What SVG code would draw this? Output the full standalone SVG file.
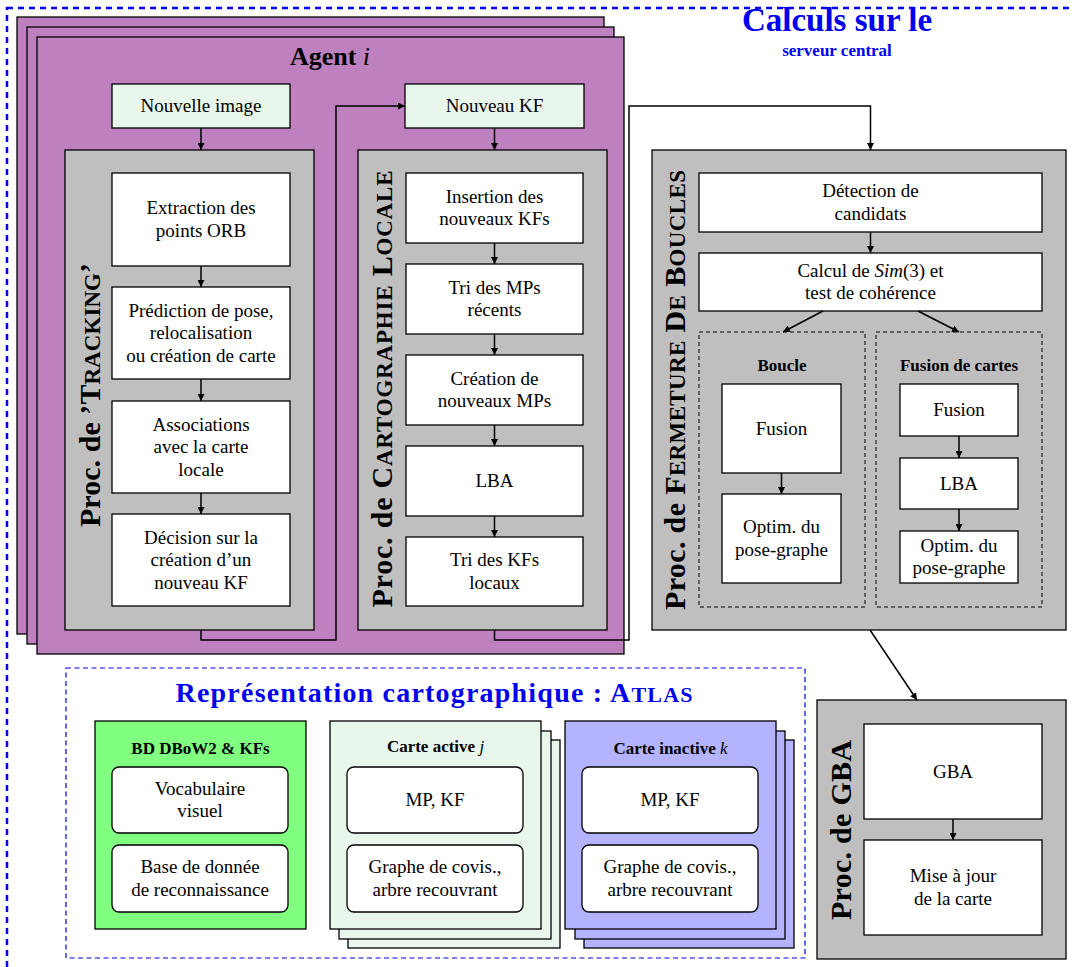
<svg xmlns="http://www.w3.org/2000/svg" width="1073" height="967" viewBox="0 0 1073 967">
  <style>
    .t { font-family: "Liberation Serif", "Times New Roman", serif; font-size: 19px; fill: #000; text-anchor: middle; }
    .b { font-family: "Liberation Serif", "Times New Roman", serif; font-weight: bold; fill: #000; text-anchor: middle; }
    .lbl { font-family: "Liberation Serif", "Times New Roman", serif; font-weight: bold; font-size: 30px; fill: #000; text-anchor: middle; }
    .sc { font-size: 23px; }
    .box { fill: #fff; stroke: #000; stroke-width: 1.3; }
    .mint { fill: #e8f6ec; stroke: #000; stroke-width: 1.3; }
    .grey { fill: #bfbfbf; stroke: #000; stroke-width: 1.3; }
    .agent { fill: #bf80bf; stroke: #000; stroke-width: 1.3; }
    .dash { fill: none; stroke: #000; stroke-width: 1; stroke-dasharray: 4 3; }
    .rbox { fill: #fff; stroke: #000; stroke-width: 1.3; }
    .arr { fill: none; stroke: #000; stroke-width: 1.5; marker-end: url(#ah); }
  </style>
  <defs>
    <marker id="ah" viewBox="0 0 10 10" refX="10" refY="5" markerWidth="7" markerHeight="7" markerUnits="userSpaceOnUse" orient="auto">
      <path d="M0,0 L10,5 L0,10 Z" fill="#000"/>
    </marker>
  </defs>

  <rect width="1073" height="967" fill="#fff"/>

  <!-- central server frame -->
  <g id="serveur">
    <rect x="7" y="8" width="1090" height="990" fill="none" stroke="#0000ee" stroke-width="2.5" stroke-dasharray="6 5"/>
    <text class="b" x="837" y="31" font-size="33" style="fill:#0000ee">Calculs sur le</text>
    <text class="b" x="837" y="56" font-size="17" style="fill:#0000ee">serveur central</text>
  </g>

  <!-- agent stack -->
  <g id="agent">
    <rect class="agent" x="17" y="17" width="587" height="617"/>
    <rect class="agent" x="27" y="27" width="587" height="617"/>
    <rect class="agent" x="37" y="37" width="587" height="617"/>
    <text class="b" x="330" y="65" font-size="26">Agent <tspan font-style="italic" font-weight="normal">i</tspan></text>
  </g>

  <g id="nouvelle-image">
    <rect class="mint" x="112" y="84" width="178" height="44"/>
    <text class="t" x="201" y="112">Nouvelle image</text>
  </g>
  <g id="nouveau-kf">
    <rect class="mint" x="405" y="84" width="179" height="44"/>
    <text class="t" x="494.5" y="112">Nouveau KF</text>
  </g>

  <!-- tracking thread -->
  <g id="tracking">
    <rect class="grey" x="65" y="150" width="249" height="480"/>
    <text class="lbl" transform="translate(100,395) rotate(-90)" textLength="264" lengthAdjust="spacing">Proc. de ’T<tspan class="sc">RACKING</tspan>’</text>
  </g>
  <g id="extraction">
    <rect class="box" x="112" y="173" width="178" height="93"/>
    <text class="t" x="201" y="214">Extraction des</text>
    <text class="t" x="201" y="237">points ORB</text>
  </g>
  <g id="prediction">
    <rect class="box" x="112" y="287" width="178" height="92"/>
    <text class="t" x="201" y="316.5">Prédiction de pose,</text>
    <text class="t" x="201" y="339">relocalisation</text>
    <text class="t" x="201" y="361.5">ou création de carte</text>
  </g>
  <g id="associations">
    <rect class="box" x="112" y="401" width="178" height="92"/>
    <text class="t" x="201" y="430.5">Associations</text>
    <text class="t" x="201" y="453">avec la carte</text>
    <text class="t" x="201" y="475.5">locale</text>
  </g>
  <g id="decision">
    <rect class="box" x="112" y="514" width="178" height="92"/>
    <text class="t" x="201" y="543.5">Décision sur la</text>
    <text class="t" x="201" y="566">création d’un</text>
    <text class="t" x="201" y="588.5">nouveau KF</text>
  </g>

  <!-- local mapping thread -->
  <g id="cartographie">
    <rect class="grey" x="358" y="150" width="249" height="480"/>
    <text class="lbl" transform="translate(392,389) rotate(-90)" textLength="437" lengthAdjust="spacing">Proc. de C<tspan class="sc">ARTOGRAPHIE</tspan> L<tspan class="sc">OCALE</tspan></text>
  </g>
  <g id="insertion">
    <rect class="box" x="406" y="173" width="177" height="70"/>
    <text class="t" x="494.5" y="203">Insertion des</text>
    <text class="t" x="494.5" y="225">nouveaux KFs</text>
  </g>
  <g id="tri-mps">
    <rect class="box" x="406" y="264" width="177" height="70"/>
    <text class="t" x="494.5" y="294">Tri des MPs</text>
    <text class="t" x="494.5" y="316">récents</text>
  </g>
  <g id="creation-mps">
    <rect class="box" x="406" y="355" width="177" height="70"/>
    <text class="t" x="494.5" y="385">Création de</text>
    <text class="t" x="494.5" y="407">nouveaux MPs</text>
  </g>
  <g id="lba-local">
    <rect class="box" x="406" y="446" width="177" height="70"/>
    <text class="t" x="494.5" y="487">LBA</text>
  </g>
  <g id="tri-kfs">
    <rect class="box" x="406" y="537" width="177" height="69"/>
    <text class="t" x="494.5" y="566">Tri des KFs</text>
    <text class="t" x="494.5" y="589">locaux</text>
  </g>

  <!-- loop closing thread -->
  <g id="fermeture">
    <rect class="grey" x="652" y="150" width="414" height="480"/>
    <text class="lbl" transform="translate(685,390) rotate(-90)" textLength="440" lengthAdjust="spacing">Proc. de F<tspan class="sc">ERMETURE</tspan> D<tspan class="sc">E</tspan> B<tspan class="sc">OUCLES</tspan></text>
  </g>
  <g id="detection">
    <rect class="box" x="699" y="173" width="343" height="59"/>
    <text class="t" x="870.5" y="197">Détection de</text>
    <text class="t" x="870.5" y="220">candidats</text>
  </g>
  <g id="sim3">
    <rect class="box" x="699" y="253" width="343" height="58"/>
    <text class="t" x="870.5" y="277">Calcul de <tspan font-style="italic">Sim</tspan>(3) et</text>
    <text class="t" x="870.5" y="299">test de cohérence</text>
  </g>
  <g id="boucle">
    <rect class="dash" x="699" y="332" width="166" height="275"/>
    <text class="b" x="782" y="371" font-size="17">Boucle</text>
  </g>
  <g id="boucle-fusion">
    <rect class="box" x="722" y="384" width="119" height="89"/>
    <text class="t" x="781.5" y="434.5">Fusion</text>
  </g>
  <g id="boucle-optim">
    <rect class="box" x="722" y="494" width="119" height="89"/>
    <text class="t" x="781.5" y="533">Optim. du</text>
    <text class="t" x="781.5" y="556">pose-graphe</text>
  </g>
  <g id="fusion-cartes">
    <rect class="dash" x="876" y="332" width="166" height="275"/>
    <text class="b" x="959" y="371" font-size="17">Fusion de cartes</text>
  </g>
  <g id="fc-fusion">
    <rect class="box" x="900" y="384" width="118" height="52"/>
    <text class="t" x="959" y="416">Fusion</text>
  </g>
  <g id="fc-lba">
    <rect class="box" x="900" y="458" width="118" height="51"/>
    <text class="t" x="959" y="489.5">LBA</text>
  </g>
  <g id="fc-optim">
    <rect class="box" x="900" y="531" width="118" height="52"/>
    <text class="t" x="959" y="552">Optim. du</text>
    <text class="t" x="959" y="574">pose-graphe</text>
  </g>

  <!-- global bundle adjustment thread -->
  <g id="gba-proc">
    <rect class="grey" x="817" y="700" width="249" height="259"/>
    <text class="lbl" transform="translate(851,830) rotate(-90)" textLength="180" lengthAdjust="spacing">Proc. de GBA</text>
  </g>
  <g id="gba">
    <rect class="box" x="864" y="724" width="178" height="95"/>
    <text class="t" x="953" y="777.5">GBA</text>
  </g>
  <g id="mise-a-jour">
    <rect class="box" x="864" y="840" width="178" height="95"/>
    <text class="t" x="953" y="882">Mise à jour</text>
    <text class="t" x="953" y="905">de la carte</text>
  </g>

  <!-- atlas -->
  <g id="atlas">
    <rect x="66" y="668" width="739" height="290" fill="none" stroke="#0000ee" stroke-width="1.2" stroke-dasharray="5 3.5"/>
    <text class="b" x="434" y="702" font-size="28" style="fill:#0000ee" textLength="517" lengthAdjust="spacing">Représentation cartographique : A<tspan font-size="22">TLAS</tspan></text>
  </g>
  <g id="bd-dbow2">
    <rect x="95" y="721" width="211" height="208" fill="#80ff80" stroke="#000" stroke-width="1.3"/>
    <text class="b" x="200.5" y="754" font-size="17">BD DBoW2 &amp; KFs</text>
    <rect class="rbox" x="112" y="767" width="176" height="66" rx="7"/>
    <text class="t" x="200" y="795">Vocabulaire</text>
    <text class="t" x="200" y="817">visuel</text>
    <rect class="rbox" x="112" y="845" width="176" height="67" rx="7"/>
    <text class="t" x="200" y="873">Base de donnée</text>
    <text class="t" x="200" y="896">de reconnaissance</text>
  </g>
  <g id="carte-active">
    <rect class="mint" x="348" y="740" width="212" height="208"/>
    <rect class="mint" x="339" y="731" width="212" height="208"/>
    <rect class="mint" x="330" y="721" width="211" height="208"/>
    <text class="b" x="435.5" y="752" font-size="17">Carte active <tspan font-style="italic" font-weight="normal">j</tspan></text>
    <rect class="rbox" x="347" y="767" width="176" height="66" rx="7"/>
    <text class="t" x="435" y="806">MP, KF</text>
    <rect class="rbox" x="347" y="845" width="176" height="67" rx="7"/>
    <text class="t" x="435" y="873">Graphe de covis.,</text>
    <text class="t" x="435" y="896">arbre recouvrant</text>
  </g>
  <g id="carte-inactive">
    <rect x="584" y="740" width="210" height="208" fill="#b3b3ff" stroke="#000" stroke-width="1.3"/>
    <rect x="575" y="731" width="210" height="208" fill="#b3b3ff" stroke="#000" stroke-width="1.3"/>
    <rect x="565" y="721" width="211" height="208" fill="#b3b3ff" stroke="#000" stroke-width="1.3"/>
    <text class="b" x="670.5" y="754" font-size="17">Carte inactive <tspan font-style="italic" font-weight="normal">k</tspan></text>
    <rect class="rbox" x="582" y="767" width="176" height="66" rx="7"/>
    <text class="t" x="670" y="806">MP, KF</text>
    <rect class="rbox" x="582" y="845" width="176" height="67" rx="7"/>
    <text class="t" x="670" y="873">Graphe de covis.,</text>
    <text class="t" x="670" y="896">arbre recouvrant</text>
  </g>

  <!-- connectors -->
  <g id="connecteurs">
    <path class="arr" d="M201,128 V150"/>
    <path class="arr" d="M494.5,128 V150"/>
    <path class="arr" d="M201,266 V287"/>
    <path class="arr" d="M201,379 V401"/>
    <path class="arr" d="M201,493 V514"/>
    <path class="arr" d="M201,630 V640 H336 V106 H405"/>
    <path class="arr" d="M494.5,243 V264"/>
    <path class="arr" d="M494.5,334 V355"/>
    <path class="arr" d="M494.5,425 V446"/>
    <path class="arr" d="M494.5,516 V537"/>
    <path class="arr" d="M494.5,630 V640 H629 V106 H870.5 V150"/>
    <path class="arr" d="M870.5,232 V253"/>
    <path class="arr" d="M823,311 L783,332"/>
    <path class="arr" d="M918,311 L959,332"/>
    <path class="arr" d="M781.5,473 V494"/>
    <path class="arr" d="M959,436 V458"/>
    <path class="arr" d="M959,509 V531"/>
    <path class="arr" d="M870,630 L917,700"/>
    <path class="arr" d="M953,819 V840"/>
  </g>
</svg>
